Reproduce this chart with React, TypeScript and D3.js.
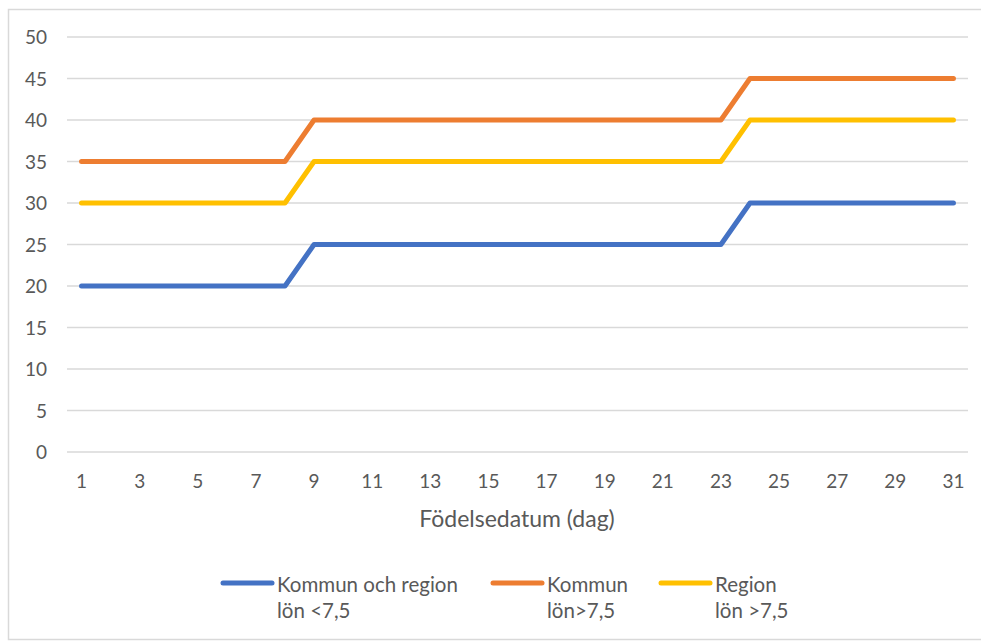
import React from "react";
import * as d3 from "d3";

const days: number[] = d3.range(1, 32);
const blueValues: number[] = [20,20,20,20,20,20,20,20,25,25,25,25,25,25,25,25,25,25,25,25,25,25,25,30,30,30,30,30,30,30,30];
const orangeValues: number[] = [35,35,35,35,35,35,35,35,40,40,40,40,40,40,40,40,40,40,40,40,40,40,40,45,45,45,45,45,45,45,45];
const yellowValues: number[] = [30,30,30,30,30,30,30,30,35,35,35,35,35,35,35,35,35,35,35,35,35,35,35,40,40,40,40,40,40,40,40];
const yTicks: number[] = [0, 5, 10, 15, 20, 25, 30, 35, 40, 45, 50];
const xTickLabels: number[] = [1, 3, 5, 7, 9, 11, 13, 15, 17, 19, 21, 23, 25, 27, 29, 31];
const seriesNames: string[][] = [["Kommun och region", "lön <7,5"], ["Kommun", "lön>7,5"], ["Region", "lön >7,5"]];
const seriesColors: string[] = ["#4472C4", "#ED7D31", "#FFC000"];

export default function App() {
  const W = 981, H = 642;
  const left = 67, right = 968, top = 37, bottom = 452;
  const x = d3.scaleBand<number>().domain(days).range([left, right]);
  const y = d3.scaleLinear().domain([0, 50]).range([bottom, top]);
  const cx = (d: number) => (x(d) as number) + x.bandwidth() / 2;
  const line = d3.line<number>().x((_, i) => cx(days[i])).y((v) => y(v));
  const series = [blueValues, orangeValues, yellowValues];
  const font = "Lato, 'Open Sans', sans-serif";
  const legendX = [223, 493, 661];
  return (
    <svg width={W} height={H} style={{ position: "absolute", left: 0, top: 0, background: "#fff" }} fontFamily={font}>
      <rect x={8.5} y={9.5} width={990} height={630} fill="#fff" stroke="#D9D9D9" strokeWidth={1.5} />
      {yTicks.map((t) => (
        <g key={t}>
          <line x1={left} x2={right} y1={y(t)} y2={y(t)} stroke="#D9D9D9" strokeWidth={1.5} />
          <text x={47} y={y(t) + 7} textAnchor="end" fontSize={19} fill="#595959">{t}</text>
        </g>
      ))}
      {xTickLabels.map((d) => (
        <text key={d} x={cx(d)} y={488} textAnchor="middle" fontSize={19} fill="#595959">{d}</text>
      ))}
      <text x={517} y={527} textAnchor="middle" fontSize={23} fill="#595959">Födelsedatum (dag)</text>
      {series.map((s, i) => (
        <path key={i} d={line(s) || ""} fill="none" stroke={seriesColors[i]} strokeWidth={5} strokeLinejoin="round" strokeLinecap="round" />
      ))}
      {seriesNames.map((n, i) => (
        <g key={i}>
          <line x1={legendX[i]} x2={legendX[i] + 49} y1={583} y2={583} stroke={seriesColors[i]} strokeWidth={5} strokeLinecap="round" />
          <text x={legendX[i] + 54} y={592} fontSize={20.5} fill="#595959">{n[0]}</text>
          <text x={legendX[i] + 54} y={618} fontSize={20.5} fill="#595959">{n[1]}</text>
        </g>
      ))}
    </svg>
  );
}
